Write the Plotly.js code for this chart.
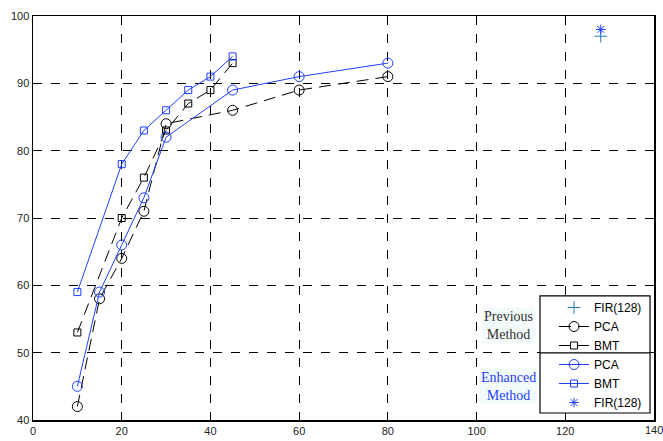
<!DOCTYPE html>
<html><head><meta charset="utf-8">
<script src="https://cdn.plot.ly/plotly-3.0.1.min.js"></script>
<style>html,body{margin:0;padding:0;background:#fff}#chart{width:663px;height:441px}</style>
</head><body><div id="chart"></div>
<script>
const prevPcaX = [10, 15, 20, 25, 30, 45, 60, 80];
const prevPcaY = [42, 58, 64, 71, 84, 86, 89, 91];
const prevBmtX = [10, 20, 25, 30, 35, 40, 45];
const prevBmtY = [53, 70, 76, 83, 87, 89, 93];
const enhPcaX = [10, 15, 20, 25, 30, 45, 60, 80];
const enhPcaY = [45, 59, 66, 73, 82, 89, 91, 93];
const enhBmtX = [10, 20, 25, 30, 35, 40, 45];
const enhBmtY = [59, 78, 83, 86, 89, 91, 94];
const firX = [128];
const prevFirY = [97];
const enhFirY = [98];
const xTicks = [0, 20, 40, 60, 80, 100, 120, 140];
const yTicks = [40, 50, 60, 70, 80, 90, 100];

const BLUE = '#1f3fff';
const traces = [
  {x: firX, y: prevFirY, name: 'FIR(128)', mode: 'markers',
   marker: {symbol: 'cross-thin-open', size: 9, line: {color: '#000', width: 1}}},
  {x: prevPcaX, y: prevPcaY, name: 'PCA', mode: 'lines+markers',
   line: {color: '#000', width: 1, dash: '12px,7px'},
   marker: {symbol: 'circle-open', size: 10, color: '#000', line: {width: 1}}},
  {x: prevBmtX, y: prevBmtY, name: 'BMT', mode: 'lines+markers',
   line: {color: '#000', width: 1, dash: '12px,7px'},
   marker: {symbol: 'square-open', size: 7, color: '#000', line: {width: 1}}},
  {x: enhPcaX, y: enhPcaY, name: 'PCA', mode: 'lines+markers',
   line: {color: BLUE, width: 1},
   marker: {symbol: 'circle-open', size: 10, color: BLUE, line: {width: 1}}},
  {x: enhBmtX, y: enhBmtY, name: 'BMT', mode: 'lines+markers',
   line: {color: BLUE, width: 1},
   marker: {symbol: 'square-open', size: 7, color: BLUE, line: {width: 1}}},
  {x: firX, y: enhFirY, name: 'FIR(128)', mode: 'markers',
   marker: {symbol: 'asterisk-open', size: 8, color: BLUE, line: {color: BLUE, width: 1}}}
];

const tickFont = {family: 'Liberation Sans, Arial', size: 11, color: '#222'};
const axisCommon = {
  showline: true, linecolor: '#000', linewidth: 1.5, mirror: true,
  ticks: 'inside', ticklen: 4, tickcolor: '#000',
  showgrid: true, gridcolor: '#000', griddash: 'dash', gridwidth: 1,
  zeroline: false, ticklabeloverflow: 'allow', tickfont: tickFont
};

const lastX = xTicks[xTicks.length - 1];
const layout = {
  width: 663, height: 441,
  margin: {l: 33, r: 9, t: 16, b: 21},
  paper_bgcolor: '#fff', plot_bgcolor: '#fff',
  showlegend: true,
  xaxis: Object.assign({}, axisCommon, {range: [0, 140], tickvals: xTicks,
    ticktext: xTicks.map(v => v === lastX ? '' : String(v))}),
  yaxis: Object.assign({}, axisCommon, {range: [40, 100], tickvals: yTicks, ticktext: yTicks.map(String)}),
  legend: {x: 0.839, y: 0.0074, xanchor: 'left', yanchor: 'bottom', traceorder: 'normal',
    bgcolor: 'rgba(0,0,0,0)', borderwidth: 0,
    font: {family: 'Liberation Sans, Arial', size: 12, color: '#000'},
    tracegroupgap: 0},
  shapes: [
    {type: 'rect', xref: 'paper', yref: 'paper', x0: 0.8164, x1: 0.9936, y0: 0.0173, y1: 0.307,
     line: {color: '#000', width: 1.2}, fillcolor: '#fff', layer: 'above'},
    {type: 'line', xref: 'paper', yref: 'paper', x0: 0.8164, x1: 0.9936, y0: 0.166, y1: 0.166,
     line: {color: '#000', width: 1.2}, layer: 'above'}
  ],
  annotations: [
    {xref: 'x', yref: 'paper', x: lastX, y: 0, xanchor: 'center', yanchor: 'top', yshift: -2,
     text: String(lastX), showarrow: false, font: tickFont},
    {xref: 'paper', yref: 'paper', x: 0.765, y: 0.235, xanchor: 'center', yanchor: 'middle',
     text: 'Previous<br>Method', showarrow: false,
     font: {family: 'Liberation Serif, Times New Roman', size: 14, color: '#333'}, bgcolor: '#f3fafa', align: 'center'},
    {xref: 'paper', yref: 'paper', x: 0.765, y: 0.084, xanchor: 'center', yanchor: 'middle',
     text: 'Enhanced<br>Method', showarrow: false,
     font: {family: 'Liberation Serif, Times New Roman', size: 14, color: BLUE}, bgcolor: '#f3fafa', align: 'center'}
  ]
};

Plotly.newPlot('chart', traces, layout, {displayModeBar: false, staticPlot: true});
</script></body></html>
